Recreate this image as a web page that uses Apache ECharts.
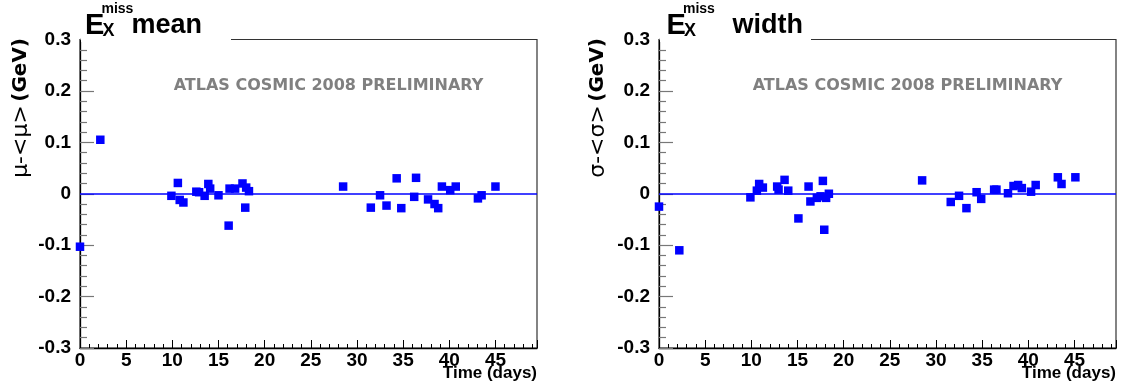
<!DOCTYPE html>
<html><head><meta charset="utf-8">
<script src="https://cdn.jsdelivr.net/npm/echarts@6/dist/echarts.min.js"></script>
<style>html,body{margin:0;padding:0;background:#fff}#c{width:1125px;height:390px}</style>
</head><body><div id="c"></div>
<script>
// ---- data ----
const meanDays = [0, 2.2, 9.9, 10.6, 10.8, 11.2, 12.6, 12.9, 13.5, 13.9, 14.1, 15.0, 16.1, 16.2, 16.8, 17.6, 17.9, 18.0, 18.3,
  28.5, 31.5, 32.5, 33.2, 34.3, 34.8, 36.2, 36.4, 37.7, 38.4, 38.8, 39.2, 40.1, 40.7, 43.1, 43.5, 45.0];
const meanDev = [-0.103, 0.105, -0.004, 0.021, -0.012, -0.017, 0.004, 0.003, -0.004, 0.019, 0.010, -0.003, -0.062, 0.010, 0.010, 0.020, -0.027, 0.012, 0.005,
  0.014, -0.027, -0.003, -0.023, 0.030, -0.028, -0.006, 0.031, -0.011, -0.020, -0.028, 0.014, 0.007, 0.014, -0.009, -0.003, 0.014];
const widthDays = [0, 2.2, 9.9, 10.6, 10.85, 11.25, 12.8, 12.95, 13.6, 14.0, 15.1, 16.2, 16.4, 17.1, 17.5, 17.75, 17.9, 18.1, 18.4,
  28.5, 31.6, 32.5, 33.3, 34.4, 34.9, 36.3, 36.55, 37.8, 38.4, 38.9, 39.3, 40.3, 40.8, 43.2, 43.6, 45.1];
const widthDev = [-0.025, -0.110, -0.007, 0.006, 0.019, 0.012, 0.014, 0.008, 0.027, 0.006, -0.048, 0.014, -0.015, -0.008, -0.005, 0.025, -0.070, -0.008, 0.000,
  0.026, -0.016, -0.004, -0.028, 0.003, -0.010, 0.008, 0.008, 0.001, 0.015, 0.017, 0.011, 0.004, 0.017, 0.032, 0.019, 0.032];
const xMin = 0, xMax = 49.5, xStep = 5;
const yMin = -0.3, yMax = 0.3, yStep = 0.1;
const panelTitles = ['mean', 'width'];
const yTitleSym = ['μ-<μ>', 'σ-<σ>'];
const yTitleUnit = '(GeV)';
const xTitle = 'Time (days)';
const watermark = 'ATLAS COSMIC 2008 PRELIMINARY';

// ---- chart ----
const FF = "'Liberation Sans', Arial, sans-serif";
const chart = echarts.init(document.getElementById('c'), null, {renderer: 'canvas'});
const grids = [
  {left: 80, top: 39.5, width: 457, height: 308.5},
  {left: 659, top: 39.5, width: 457, height: 308.5}
];
function xAxisFor(i) {
  return {
    type: 'value', gridIndex: i, min: xMin, max: xMax, interval: xStep,
    axisLine: {show: true, onZero: false, lineStyle: {color: '#000', width: 1.3}},
    axisTick: {show: true, inside: true, length: 8, lineStyle: {color: '#000', width: 1}},
    minorTick: {show: true, splitNumber: 5, length: 4, lineStyle: {color: '#000', width: 1}},
    splitLine: {show: false},
    axisLabel: {margin: 3, color: '#000', fontFamily: FF, fontWeight: 'bold', fontSize: 19,
      formatter: v => (Math.abs(v % xStep) < 1e-9 ? String(v) : '')}
  };
}
function yAxisFor(i) {
  return {
    type: 'value', gridIndex: i, min: yMin, max: yMax, interval: yStep,
    axisLine: {show: true, onZero: false, lineStyle: {color: '#000', width: 1.3}},
    axisTick: {show: true, inside: true, length: 14, lineStyle: {color: '#777', width: 1.2}},
    minorTick: {show: true, splitNumber: 5, length: 7, lineStyle: {color: '#777', width: 1.2}},
    splitLine: {show: false},
    axisLabel: {margin: 9, color: '#000', fontFamily: FF, fontWeight: 'bold', fontSize: 19,
      formatter: v => { const r = Math.round(v * 10) / 10; return r === 0 ? '0' : String(r); }}
  };
}
function scatterFor(i, xs, ys) {
  return {
    type: 'scatter', xAxisIndex: i, yAxisIndex: i, clip: false,
    symbol: 'rect', symbolSize: 8.5,
    itemStyle: {color: '#0000ff', opacity: 1},
    data: xs.map((d, k) => [d, ys[k]]),
    markLine: {
      silent: true, symbol: ['none', 'none'], label: {show: false},
      lineStyle: {color: '#0000ff', width: 1.5, type: 'solid', opacity: 1},
      data: [{yAxis: 0}]
    },
    z: 3
  };
}
const graphics = [];
const titleX = [85, 666.5];
const titleGap = [46.5, 66];
const boxEnd = [231, 811];
const yTitleX = [21, 598];
for (let i = 0; i < 2; i++) {
  const g = grids[i];
  // white title box covering the top frame
  graphics.push({type: 'rect', z: 100, shape: {x: g.left + 1, y: 35, width: boxEnd[i] - g.left - 1, height: 7},
    style: {fill: '#fff'}});
  const ex = titleX[i];
  graphics.push({type: 'text', z: 101, x: ex, y: 25.5, style: {text: 'E', font: `bold 29px ${FF}`, fill: '#000', verticalAlign: 'middle'}});
  graphics.push({type: 'text', z: 101, x: ex + 16.5, y: 9, style: {text: 'miss', font: `bold 14px ${FF}`, fill: '#000', verticalAlign: 'middle'}});
  graphics.push({type: 'text', z: 101, x: ex + 17.5, y: 31, style: {text: 'X', font: `bold 18px ${FF}`, fill: '#000', verticalAlign: 'middle'}});
  graphics.push({type: 'text', z: 101, x: ex + titleGap[i], y: 26, style: {text: panelTitles[i], font: `bold 27px ${FF}`, fill: '#000', verticalAlign: 'middle'}});
  // watermark
  graphics.push({type: 'text', z: 101, x: g.left + g.width / 2 + 20, y: 86,
    style: {text: watermark, font: `bold 16px 'DejaVu Sans', sans-serif`, fill: '#808080', align: 'center', verticalAlign: 'middle'}});
  // x title
  graphics.push({type: 'text', z: 101, x: g.left + g.width, y: 373,
    style: {text: xTitle, font: `bold 17px ${FF}`, fill: '#000', align: 'right', verticalAlign: 'middle'}});
  // y title (rotated)
  graphics.push({type: 'text', z: 101, x: yTitleX[i], y: 38, rotation: Math.PI / 2,
    style: {
      text: `{s|${yTitleSym[i]}} {u|${yTitleUnit}}`, align: 'right', verticalAlign: 'middle',
      rich: {
        s: {fontFamily: "'DejaVu Sans', sans-serif", fontSize: 22, fontWeight: 'normal', fill: '#000', color: '#000'},
        u: {fontFamily: "'DejaVu Sans', sans-serif", fontSize: 20, fontWeight: 'bold', fill: '#000', color: '#000'}
      }
    }});
}

chart.setOption({
  animation: false,
  backgroundColor: '#fff',
  grid: grids.map(g => Object.assign({show: true, borderColor: '#333', borderWidth: 1.2, backgroundColor: 'transparent', containLabel: false}, g)),
  xAxis: [xAxisFor(0), xAxisFor(1)],
  yAxis: [yAxisFor(0), yAxisFor(1)],
  series: [scatterFor(0, meanDays, meanDev), scatterFor(1, widthDays, widthDev)],
  graphic: graphics
});
</script></body></html>
